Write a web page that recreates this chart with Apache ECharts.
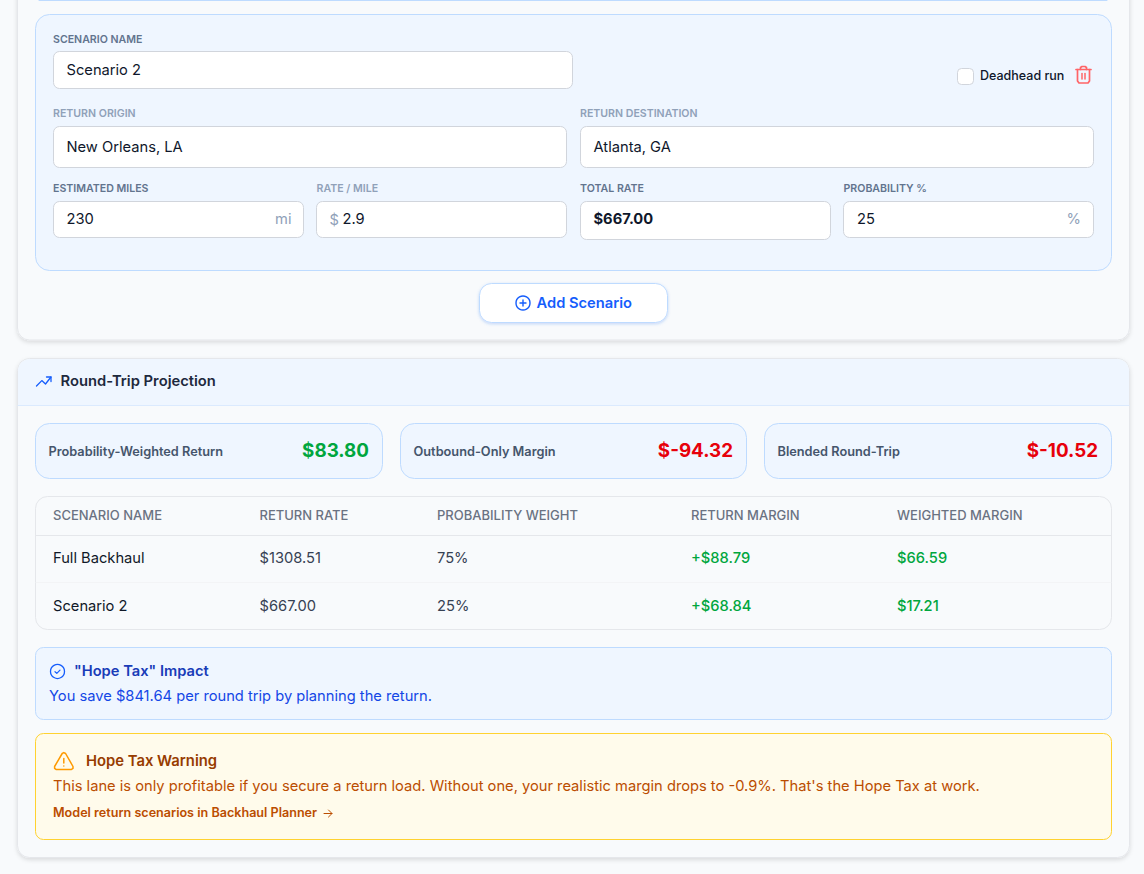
<!DOCTYPE html>
<html>
<head>
<meta charset="utf-8">
<title>Round-Trip Projection</title>
<script src="https://cdn.jsdelivr.net/npm/echarts@6/dist/echarts.min.js"></script>
<style>
html,body{margin:0;padding:0;background:#f8fafc;}
#main{width:1144px;height:874px;}
</style>
</head>
<body>
<div id="main"></div>
<script>
// form values
var formLabels = ['SCENARIO NAME', 'RETURN ORIGIN', 'RETURN DESTINATION', 'ESTIMATED MILES', 'RATE / MILE', 'TOTAL RATE', 'PROBABILITY %'];
var formValues = ['Scenario 2', 'New Orleans, LA', 'Atlanta, GA', '230', '2.9', '$667.00', '25'];

// summary cards
var kpiLabels = ['Probability-Weighted Return', 'Outbound-Only Margin', 'Blended Round-Trip'];
var kpiValues = ['$83.80', '$-94.32', '$-10.52'];

// table
var tableHeaders = ['SCENARIO NAME', 'RETURN RATE', 'PROBABILITY WEIGHT', 'RETURN MARGIN', 'WEIGHTED MARGIN'];
var scenarioNames = ['Full Backhaul', 'Scenario 2'];
var returnRates = ['$1308.51', '$667.00'];
var probabilityWeights = ['75%', '25%'];
var returnMargins = ['+$88.79', '+$68.84'];
var weightedMargins = ['$66.59', '$17.21'];

var FONT = 'Inter, "Noto Sans", sans-serif';
var BLUE = '#155dfc', GREEN = '#00a63e', RED = '#e7000b', EDGE = '#bedbff', TINT = '#eff6ff';
var BODY = 14.7, SMALL = 10.6;
var els = [];

function box(x, y, w, h, r, fill, stroke, extra) {
    var style = {fill: fill, stroke: stroke, lineWidth: 1};
    for (var k in (extra || {})) style[k] = extra[k];
    els.push({type: 'rect', shape: {x: x, y: y, width: w, height: h, r: r}, style: style});
}
function label(x, y, text, size, weight, color, align) {
    els.push({
        type: 'text', x: x, y: y,
        style: {
            text: text, fill: color, align: align || 'left', verticalAlign: 'middle',
            font: weight + ' ' + size + 'px ' + FONT
        }
    });
}
function line(x1, y1, x2, y2, color, width) {
    els.push({type: 'line', shape: {x1: x1, y1: y1, x2: x2, y2: y2},
        style: {stroke: color, lineWidth: width || 1, lineCap: 'round'}});
}
function poly(points, color, width) {
    els.push({type: 'polyline', shape: {points: points},
        style: {stroke: color, lineWidth: width, fill: 'none', lineJoin: 'round', lineCap: 'round'}});
}
function ring(cx, cy, r, color, width) {
    els.push({type: 'circle', shape: {cx: cx, cy: cy, r: r},
        style: {stroke: color, lineWidth: width, fill: 'none'}});
}
function input(x, y, w, h) {
    box(x + .5, y + .5, w, h, 6, '#ffffff', '#d1d5dc');
}

// ---- first card
box(17.5, -40, 1112, 380, 12, '#f8fafc', '#e5e7eb', {shadowBlur: 4, shadowOffsetY: 2, shadowColor: 'rgba(0,0,0,0.12)'});
line(39, 0.5, 1107, 0.5, EDGE, 1);
box(35.5, 14.5, 1076, 256, 14, TINT, EDGE);

var C_DARK = '#62748e', C_SOFT = '#90a1b9', C_INK = '#0f172b';
label(53, 39, formLabels[0], SMALL, 600, C_DARK);
input(53, 51, 519, 37);
label(66.5, 69.5, formValues[0], BODY, 400, C_INK);

// checkbox and delete icon
box(957.5, 68.5, 16, 16, 4, '#ffffff', '#d1d5dc');
label(980, 75.5, 'Deadhead run', 12.5, 500, C_INK);
var T = '#ff6467';
line(1076, 69.5, 1091, 69.5, T, 1.7);
poly([[1077.5, 69.5], [1077.5, 81], [1079, 83], [1088, 83], [1089.5, 81], [1089.5, 69.5]], T, 1.7);
poly([[1080.5, 69.5], [1080.5, 67.5], [1082, 66.5], [1085, 66.5], [1086.5, 67.5], [1086.5, 69.5]], T, 1.7);
line(1082, 73.5, 1082, 79, T, 1.5);
line(1085, 73.5, 1085, 79, T, 1.5);

label(53, 113, formLabels[1], SMALL, 600, C_SOFT);
input(53, 126, 513, 41);
label(66.5, 146.5, formValues[1], BODY, 400, C_INK);
label(580, 113, formLabels[2], SMALL, 600, C_SOFT);
input(580, 126, 513, 41);
label(593.5, 146.5, formValues[2], BODY, 400, C_INK);

label(53, 188, formLabels[3], SMALL, 600, C_DARK);
input(53, 201, 250, 36);
label(66.5, 218.5, formValues[3], BODY, 400, C_INK);
label(291.5, 218.5, 'mi', BODY, 400, C_SOFT, 'right');

label(316.5, 188, formLabels[4], SMALL, 600, C_SOFT);
input(316, 201, 250, 36);
label(329.5, 220, '$', BODY, 400, C_SOFT);
label(342.5, 218.5, formValues[4], BODY, 400, C_INK);

label(580, 188, formLabels[5], SMALL, 600, C_DARK);
input(580, 201, 250, 38);
label(593.5, 219, formValues[5], BODY, 700, C_INK);

label(843.5, 188, formLabels[6], SMALL, 600, C_DARK);
input(843, 201, 250, 36);
label(857, 218.5, formValues[6], BODY, 400, C_INK);
label(1081, 218.5, '%', BODY, 400, C_SOFT, 'right');

// add scenario button
box(479.5, 283.5, 188, 39, 12, '#ffffff', EDGE, {shadowBlur: 3, shadowOffsetY: 1, shadowColor: 'rgba(37,99,235,0.25)'});
ring(523, 303, 7, BLUE, 1.4);
line(520, 303, 526, 303, BLUE, 1.4);
line(523, 300, 523, 306, BLUE, 1.4);
label(536.5, 303, 'Add Scenario', BODY, 600, BLUE);

// ---- second card
box(17.5, 358.5, 1112, 499, 12, '#f8fafc', '#e5e7eb', {shadowBlur: 4, shadowOffsetY: 2, shadowColor: 'rgba(0,0,0,0.12)'});
els.push({type: 'rect', shape: {x: 18, y: 359, width: 1111, height: 46, r: [12, 12, 0, 0]}, style: {fill: TINT}});
line(18, 405.5, 1129, 405.5, '#dbeafe', 1);
poly([[36.5, 386], [41.8, 380.6], [45.5, 384], [51, 377]], BLUE, 1.3);
poly([[46.5, 377], [51, 377], [51, 381.5]], BLUE, 1.3);
label(60.5, 381, 'Round-Trip Projection', 14.75, 600, '#1d293d');

var kpiX = [35.5, 400.5, 764.5], kpiW = [347, 346, 347];
kpiLabels.forEach(function (name, i) {
    box(kpiX[i], 423.5, kpiW[i], 55, 14, TINT, EDGE);
    label(kpiX[i] + 13, 451, name, 12.75, 600, '#45556c');
    label(kpiX[i] + kpiW[i] - 13.5, 450.5, kpiValues[i], 18.8, 700, i === 0 ? GREEN : RED, 'right');
});

// table
box(35.5, 496.5, 1076, 133, 12, '#f8fafc', '#e5e7eb');
line(36, 535.5, 1111, 535.5, '#e5e7eb', 1);
line(36, 582.5, 1111, 582.5, '#f3f4f6', 1);
var colX = [53, 259.5, 437, 691, 897];
var rowY = [557.5, 605.5];
tableHeaders.forEach(function (h, i) {
    label(colX[i], 515, h, 13, 500, '#6a7282');
});
scenarioNames.forEach(function (name, i) {
    label(colX[0], rowY[i], name, BODY, 400, '#101828');
    label(colX[1], rowY[i], returnRates[i], BODY, 400, '#364153');
    label(colX[2], rowY[i], probabilityWeights[i], BODY, 400, '#364153');
    label(colX[3], rowY[i], returnMargins[i], BODY, 500, GREEN);
    label(colX[4], rowY[i], weightedMargins[i], BODY, 500, GREEN);
});

// hope tax impact
box(35.5, 647.5, 1076, 72, 8, TINT, EDGE);
ring(57.5, 671.5, 7, BLUE, 1.3);
poly([[55, 671.7], [56.8, 673.4], [60, 670.2]], BLUE, 1.2);
label(74, 671, '"Hope Tax" Impact', BODY, 600, '#193cb8');
label(49, 695.5, 'You save $841.64 per round trip by planning the return.', BODY, 400, '#1447e6');

// warning
var AMBER = '#fe9a00', BROWN = '#973c00', RUST = '#bb4d00';
box(35.5, 733.5, 1076, 106, 8, '#fffbeb', '#ffd230');
poly([[62.2, 753.5], [63.8, 752.6], [65.6, 753.5], [73, 766.5], [73, 768.4], [71.5, 769.4], [56, 769.4], [54.6, 768.4], [54.6, 766.5], [62.2, 753.5]], AMBER, 1.5);
line(63.8, 758.5, 63.8, 763, AMBER, 1.5);
line(63.8, 766, 63.81, 766, AMBER, 1.5);
label(86, 761, 'Hope Tax Warning', 14.8, 600, BROWN);
label(53, 786, "This lane is only profitable if you secure a return load. Without one, your realistic margin drops to -0.9%. That's the Hope Tax at work.", BODY, 400, RUST);
label(53, 812.5, 'Model return scenarios in Backhaul Planner', 12.6, 600, RUST);
line(324, 813.5, 332, 813.5, RUST, 1);
poly([[328.5, 810], [332, 813.5], [328.5, 817]], RUST, 1);

var chart = echarts.init(document.getElementById('main'), null, {renderer: 'svg'});
chart.setOption({
    animation: false,
    backgroundColor: '#f8fafc',
    graphic: {elements: els}
});
</script>
</body>
</html>
